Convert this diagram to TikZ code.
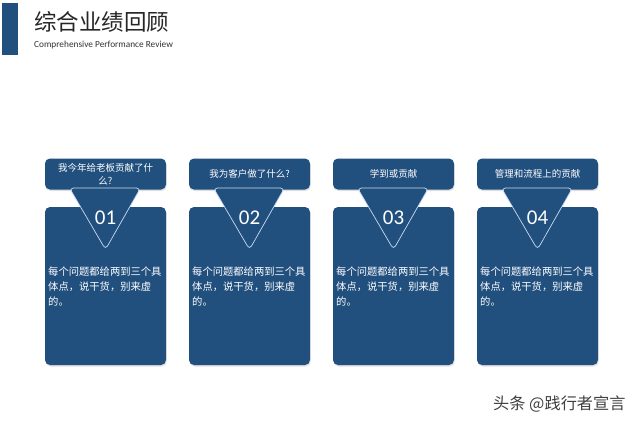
\documentclass[tikz,border=0pt]{standalone}
\usepackage{fontspec}
\setmainfont{Carlito}
\newfontfamily\cjk{Noto Sans CJK SC}
\usetikzlibrary{shadows}
\definecolor{navy}{HTML}{22507E}
\definecolor{edgeblue}{HTML}{C9DCF0}
\begin{document}
\begin{tikzpicture}[x=1pt,y=-1pt,
  card/.style={fill=navy, rounded corners=5pt, inner sep=0pt,
    drop shadow={opacity=0.25, shadow xshift=0.6pt, shadow yshift=-1.5pt}},
  hdr/.style={card, minimum width=121pt, minimum height=31pt, text=white,
    font=\cjk\fontsize{9.5}{13}\selectfont, align=center},
  bodybox/.style={card, minimum width=121pt, minimum height=158pt},
  tri/.style={fill=navy, draw=edgeblue, line width=0.7pt, rounded corners=4pt},
  num/.style={text=white, font=\fontsize{21}{24}\selectfont},
  bodytext/.style={text=white, anchor=north west, align=left, inner sep=0pt,
    font=\cjk\fontsize{10.3}{15}\selectfont}]
\useasboundingbox (0,0) rectangle (640,424);
\fill[white] (0,0) rectangle (640,424);
% title block
\node[fill=navy, minimum width=16pt, minimum height=52pt, inner sep=0pt, anchor=north west] (bar) at (1.5,3) {};
\node[anchor=west, inner sep=0pt, font=\cjk\fontsize{22.5}{24}\selectfont, text=black!85] (title) at (34,22) {综合业绩回顾};
\node[anchor=west, inner sep=0pt, font=\fontsize{9.3}{11}\selectfont, text=black!80] (sub) at (34,45) {Comprehensive Performance Review};
% cards
\foreach \i/\cx/\h/\n in {1/105.5/{我今年给老板贡献了什\\么?}/01, 2/249.5/{我为客户做了什么?}/02, 3/393.5/{学到或贡献}/03, 4/537.5/{管理和流程上的贡献}/04}{
  \node[bodybox] (b\i) at (\cx,286) {};
  \node[hdr] (h\i) at (\cx,174) {\h};
  \draw[tri] (\cx-36,188) -- (\cx+35,188) -- (\cx,249.5) -- cycle;
  \node[num] (n\i) at (\cx,218) {\n};
  \node[bodytext] (t\i) at (\cx-57.5,267) {每个问题都给两到三个具\\体点，说干货，别来虚\\的。};
}
% watermark
\node[anchor=west, inner sep=0pt, font=\cjk\fontsize{16.2}{18}\selectfont, text=black!75] (wm) at (493,404) {头条 @践行者宣言};
\end{tikzpicture}
\end{document}
